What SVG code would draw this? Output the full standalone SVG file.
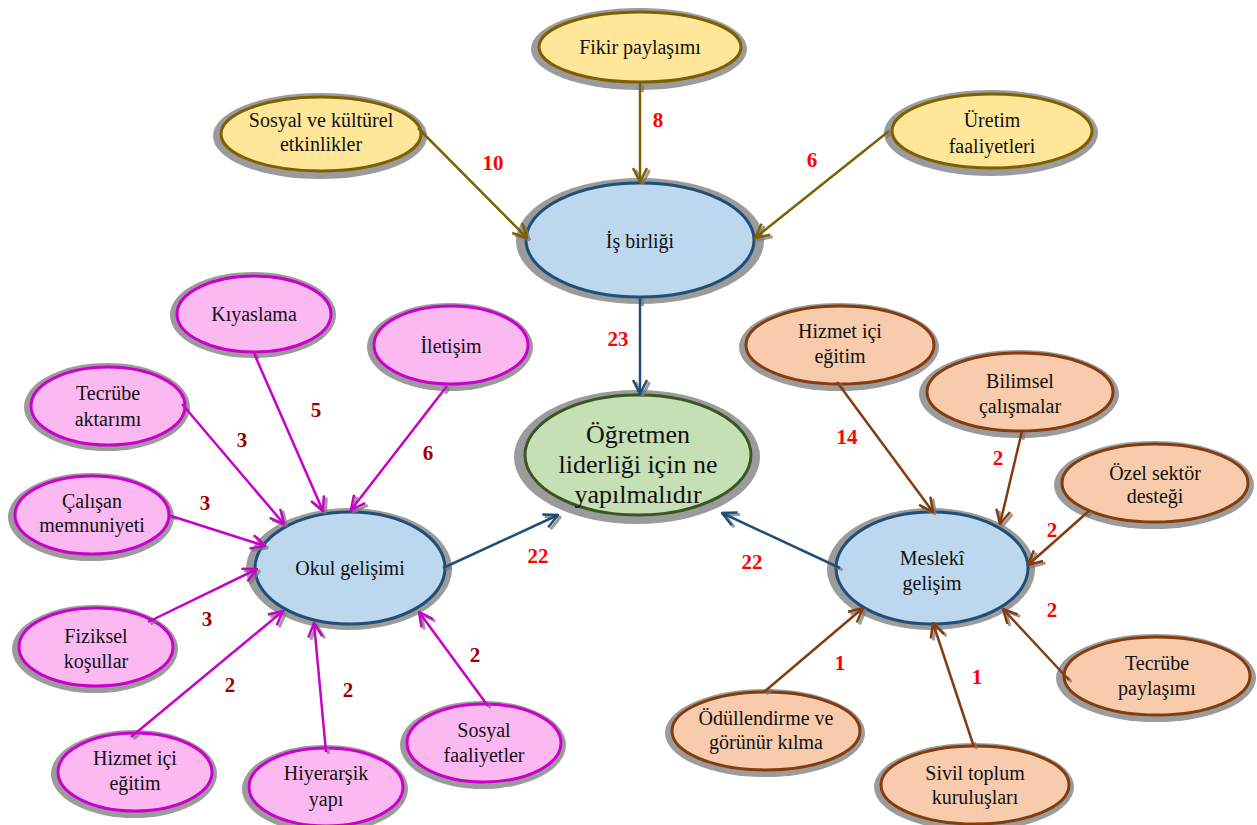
<svg xmlns="http://www.w3.org/2000/svg" width="1257" height="825" viewBox="0 0 1257 825" font-family="'Liberation Serif', 'DejaVu Serif', serif">
<style>
.sh{fill:#9b9b9b}
.yl{fill:#FFE699;stroke:#7F6000;stroke-width:3}
.bl{fill:#BDD7EE;stroke:#1F4E79;stroke-width:3}
.gr{fill:#C5E0B4;stroke:#385723;stroke-width:3}
.pk{fill:#FBB8F1;stroke:#CC00CC;stroke-width:3}
.or{fill:#F8CBAD;stroke:#843C0C;stroke-width:3}
text{text-anchor:middle;fill:#111}
.t{font-size:20px}
.tc{font-size:26px}
.n{font-size:21px;font-weight:bold;fill:#FF0000}
.nd{font-size:21px;font-weight:bold;fill:#990000}
.cy{stroke:#7F6000;stroke-width:2.5;fill:none;marker-end:url(#ay)}
.cb{stroke:#1F4E79;stroke-width:2.5;fill:none;marker-end:url(#ab)}
.cp{stroke:#C800C8;stroke-width:2.5;fill:none;marker-end:url(#ap)}
.co{stroke:#843C0C;stroke-width:2.5;fill:none;marker-end:url(#ao)}
.cs{stroke:none;fill:none;marker-start:url(#ss);marker-end:url(#se)}
</style>
<defs>
<marker id="ay" viewBox="0 0 16 16" refX="15" refY="8" markerWidth="16" markerHeight="16" markerUnits="userSpaceOnUse" orient="auto"><path d="M1,1 L15,8 L1,15" fill="none" stroke="#7F6000" stroke-width="2.5"/></marker>
<marker id="ab" viewBox="0 0 16 16" refX="15" refY="8" markerWidth="16" markerHeight="16" markerUnits="userSpaceOnUse" orient="auto"><path d="M1,1 L15,8 L1,15" fill="none" stroke="#1F4E79" stroke-width="2.5"/></marker>
<marker id="ap" viewBox="0 0 16 16" refX="15" refY="8" markerWidth="16" markerHeight="16" markerUnits="userSpaceOnUse" orient="auto"><path d="M1,1 L15,8 L1,15" fill="none" stroke="#C800C8" stroke-width="2.5"/></marker>
<marker id="ao" viewBox="0 0 16 16" refX="15" refY="8" markerWidth="16" markerHeight="16" markerUnits="userSpaceOnUse" orient="auto"><path d="M1,1 L15,8 L1,15" fill="none" stroke="#843C0C" stroke-width="2.5"/></marker>
<marker id="se" viewBox="0 0 16 16" refX="15" refY="8" markerWidth="16" markerHeight="16" markerUnits="userSpaceOnUse" orient="auto"><path d="M1,1 L15,8 L1,15" fill="none" stroke="#7a7a7a" stroke-opacity="0.75" stroke-width="3"/></marker>
<marker id="ss" viewBox="0 0 10 4" refX="0" refY="2" markerWidth="10" markerHeight="4" markerUnits="userSpaceOnUse" orient="auto"><path d="M0,2 L7,2" fill="none" stroke="#7a7a7a" stroke-opacity="0.75" stroke-width="3"/></marker>
</defs>

<!-- Top cluster -->
<g id="fikir"><ellipse class="sh" cx="639" cy="49" rx="108" ry="41"/><ellipse class="yl" cx="640" cy="47" rx="101" ry="35"/><text class="t" x="640" y="54">Fikir paylaşımı</text></g>
<g id="sosyal-kulturel"><ellipse class="sh" cx="320" cy="136" rx="107" ry="43"/><ellipse class="yl" cx="321" cy="134" rx="100" ry="37"/><text class="t" x="321" y="127">Sosyal ve kültürel</text><text class="t" x="321" y="151">etkinlikler</text></g>
<g id="uretim"><ellipse class="sh" cx="991" cy="133" rx="107" ry="43"/><ellipse class="yl" cx="992" cy="131" rx="100" ry="37"/><text class="t" x="992" y="127">Üretim</text><text class="t" x="992" y="153">faaliyetleri</text></g>
<g id="is-birligi"><ellipse class="sh" cx="640" cy="241" rx="124" ry="63"/><ellipse class="bl" cx="640" cy="240" rx="114" ry="57"/><text class="t" x="640" y="248">İş birliği</text></g>

<!-- Center -->
<g id="ogretmen"><ellipse class="sh" cx="637" cy="457" rx="123" ry="67"/><ellipse class="gr" cx="638" cy="455" rx="113" ry="60"/><text class="tc" x="638" y="443">Öğretmen</text><text class="tc" x="638" y="473">liderliği için ne</text><text class="tc" x="638" y="503">yapılmalıdır</text></g>

<!-- Okul gelişimi cluster -->
<g id="okul"><ellipse class="sh" cx="349" cy="569" rx="103" ry="61"/><ellipse class="bl" cx="350" cy="568" rx="95" ry="56"/><text class="t" x="350" y="575">Okul gelişimi</text></g>
<g id="kiyaslama"><ellipse class="sh" cx="253" cy="315" rx="83" ry="43"/><ellipse class="pk" cx="254" cy="314" rx="77" ry="38"/><text class="t" x="254" y="321">Kıyaslama</text></g>
<g id="iletisim"><ellipse class="sh" cx="450" cy="347" rx="83" ry="44"/><ellipse class="pk" cx="451" cy="345" rx="77" ry="39"/><text class="t" x="451" y="353">İletişim</text></g>
<g id="tecrube-aktarimi"><ellipse class="sh" cx="107" cy="407" rx="83" ry="44"/><ellipse class="pk" cx="108" cy="406" rx="77" ry="39"/><text class="t" x="108" y="400">Tecrübe</text><text class="t" x="108" y="426">aktarımı</text></g>
<g id="calisan"><ellipse class="sh" cx="91" cy="517" rx="83" ry="44"/><ellipse class="pk" cx="92" cy="515" rx="77" ry="39"/><text class="t" x="92" y="508">Çalışan</text><text class="t" x="92" y="532">memnuniyeti</text></g>
<g id="fiziksel"><ellipse class="sh" cx="95" cy="649" rx="83" ry="44"/><ellipse class="pk" cx="96" cy="647" rx="77" ry="39"/><text class="t" x="96" y="643">Fiziksel</text><text class="t" x="96" y="668">koşullar</text></g>
<g id="hizmet-pembe"><ellipse class="sh" cx="134" cy="774" rx="83" ry="44"/><ellipse class="pk" cx="135" cy="772" rx="77" ry="39"/><text class="t" x="135" y="765">Hizmet içi</text><text class="t" x="135" y="790">eğitim</text></g>
<g id="hiyerarsik"><ellipse class="sh" cx="325" cy="789" rx="83" ry="44"/><ellipse class="pk" cx="326" cy="787" rx="77" ry="39"/><text class="t" x="326" y="780">Hiyerarşik</text><text class="t" x="326" y="806">yapı</text></g>
<g id="sosyal-faaliyetler"><ellipse class="sh" cx="483" cy="745" rx="83" ry="44"/><ellipse class="pk" cx="484" cy="743" rx="77" ry="39"/><text class="t" x="484" y="737">Sosyal</text><text class="t" x="484" y="762">faaliyetler</text></g>

<!-- Mesleki gelişim cluster -->
<g id="mesleki"><ellipse class="sh" cx="931" cy="569" rx="104" ry="61"/><ellipse class="bl" cx="932" cy="568" rx="96" ry="56"/><text class="t" x="932" y="565">Meslekî</text><text class="t" x="932" y="590">gelişim</text></g>
<g id="hizmet-turuncu"><ellipse class="sh" cx="839" cy="347" rx="100" ry="44"/><ellipse class="or" cx="840" cy="345" rx="94" ry="39"/><text class="t" x="840" y="338">Hizmet içi</text><text class="t" x="840" y="363">eğitim</text></g>
<g id="bilimsel"><ellipse class="sh" cx="1019" cy="394" rx="100" ry="44"/><ellipse class="or" cx="1020" cy="392" rx="93" ry="39"/><text class="t" x="1020" y="388">Bilimsel</text><text class="t" x="1020" y="413">çalışmalar</text></g>
<g id="ozel-sektor"><ellipse class="sh" cx="1154" cy="485" rx="100" ry="44"/><ellipse class="or" cx="1155" cy="483" rx="93" ry="39"/><text class="t" x="1155" y="480">Özel sektör</text><text class="t" x="1155" y="503">desteği</text></g>
<g id="tecrube-paylasimi"><ellipse class="sh" cx="1156" cy="678" rx="100" ry="44"/><ellipse class="or" cx="1157" cy="676" rx="93" ry="39"/><text class="t" x="1157" y="670">Tecrübe</text><text class="t" x="1157" y="695">paylaşımı</text></g>
<g id="odullendirme"><ellipse class="sh" cx="765" cy="733" rx="100" ry="44"/><ellipse class="or" cx="766" cy="731" rx="94" ry="39"/><text class="t" x="766" y="725">Ödüllendirme ve</text><text class="t" x="766" y="749">görünür kılma</text></g>
<g id="sivil-toplum"><ellipse class="sh" cx="974" cy="787" rx="100" ry="44"/><ellipse class="or" cx="975" cy="785" rx="94" ry="39"/><text class="t" x="975" y="780">Sivil toplum</text><text class="t" x="975" y="804">kuruluşları</text></g>

<g id="connectors">
<g id="connector-shadows" transform="translate(2.5,2)">
<path class="cs" d="M640,83 L640,182"/>
<path class="cs" d="M418,128 L527,238"/>
<path class="cs" d="M889,131 L755,238"/>
<path class="cs" d="M640,297 L640,394"/>
<path class="cs" d="M443,568 L558,515"/>
<path class="cs" d="M840,568 L722,513"/>
<path class="cs" d="M253,351 L323,511"/>
<path class="cs" d="M447,386 L351,510"/>
<path class="cs" d="M182,404 L284,524"/>
<path class="cs" d="M168,515 L265,546"/>
<path class="cs" d="M148,622 L257,569"/>
<path class="cs" d="M131,737 L283,611"/>
<path class="cs" d="M326,752 L314,623"/>
<path class="cs" d="M488,706 L419,612"/>
<path class="cs" d="M837,382 L933,512"/>
<path class="cs" d="M1022,431 L1000,524"/>
<path class="cs" d="M1090,510 L1028,565"/>
<path class="cs" d="M1069,680 L1003,609"/>
<path class="cs" d="M764,692 L863,608"/>
<path class="cs" d="M974,747 L933,623"/>
</g>
<path class="cy" d="M640,83 L640,182"/>
<path class="cy" d="M418,128 L527,238"/>
<path class="cy" d="M889,131 L755,238"/>
<path class="cb" d="M640,297 L640,394"/>
<path class="cb" d="M443,568 L558,515"/>
<path class="cb" d="M840,568 L722,513"/>
<path class="cp" d="M253,351 L323,511"/>
<path class="cp" d="M447,386 L351,510"/>
<path class="cp" d="M182,404 L284,524"/>
<path class="cp" d="M168,515 L265,546"/>
<path class="cp" d="M148,622 L257,569"/>
<path class="cp" d="M131,737 L283,611"/>
<path class="cp" d="M326,752 L314,623"/>
<path class="cp" d="M488,706 L419,612"/>
<path class="co" d="M837,382 L933,512"/>
<path class="co" d="M1022,431 L1000,524"/>
<path class="co" d="M1090,510 L1028,565"/>
<path class="co" d="M1069,680 L1003,609"/>
<path class="co" d="M764,692 L863,608"/>
<path class="co" d="M974,747 L933,623"/>
</g>

<g id="labels">
<text class="n" x="493" y="170">10</text>
<text class="n" x="658" y="127">8</text>
<text class="n" x="812" y="167">6</text>
<text class="n" x="618" y="346">23</text>
<text class="n" x="538" y="563">22</text>
<text class="n" x="752" y="569">22</text>
<text class="nd" x="316" y="417">5</text>
<text class="nd" x="428" y="460">6</text>
<text class="nd" x="242" y="447">3</text>
<text class="nd" x="205" y="510">3</text>
<text class="nd" x="207" y="626">3</text>
<text class="nd" x="230" y="692">2</text>
<text class="nd" x="348" y="697">2</text>
<text class="nd" x="475" y="662">2</text>
<text class="n" x="847" y="444">14</text>
<text class="n" x="998" y="465">2</text>
<text class="n" x="1052" y="537">2</text>
<text class="n" x="1052" y="617">2</text>
<text class="n" x="840" y="670">1</text>
<text class="n" x="977" y="684">1</text>
</g>
</svg>
